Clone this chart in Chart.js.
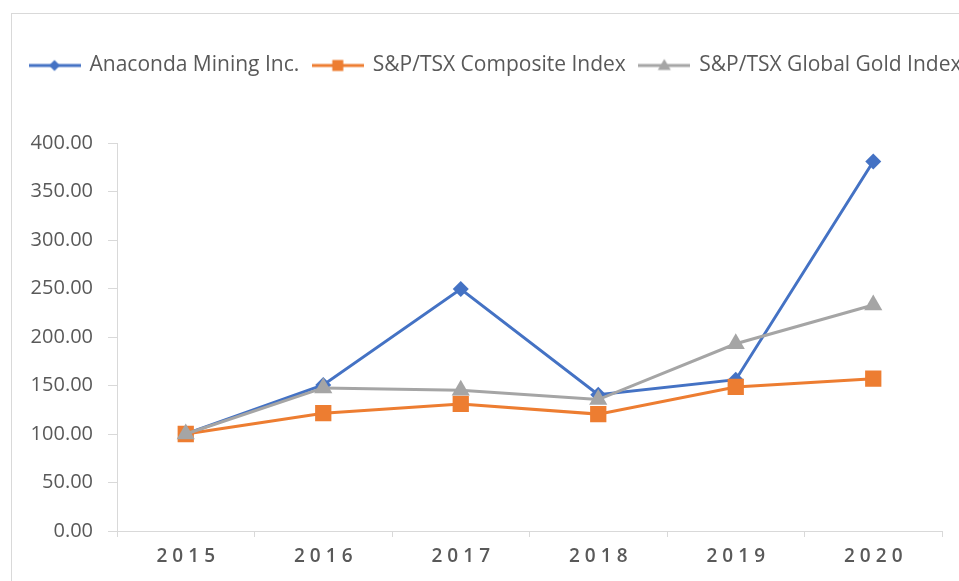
<!DOCTYPE html>
<html>
<head>
<meta charset="utf-8">
<script src="https://cdn.jsdelivr.net/npm/chart.js@4.4.1/dist/chart.umd.min.js"></script>
<style>
  html, body { margin: 0; padding: 0; background: #fff; }
  #wrap { position: relative; width: 959px; height: 581px; overflow: hidden; }
  #frame { position: absolute; left: 11px; top: 13px; width: 1000px; height: 1000px; border: 1px solid #d9d9d9; }
  #myChart { position: absolute; left: 0; top: 0; }
</style>
</head>
<body>
<div id="wrap">
  <div id="frame"></div>
  <canvas id="myChart" width="1100" height="581"></canvas>
</div>
<script>
// 数据
const years = ['2015', '2016', '2017', '2018', '2019', '2020'];
const anaconda = [100, 150.5, 249.5, 140.5, 156, 381];
const composite = [100, 121.5, 131, 120.5, 148.5, 157];
const goldIndex = [100, 147.5, 145, 135.5, 193, 233];
const seriesNames = ['Anaconda Mining Inc.', 'S&P/TSX Composite Index', 'S&P/TSX Global Gold Index'];
const yTicks = [0, 50, 100, 150, 200, 250, 300, 350, 400];

const BLUE = '#4472C4';
const ORANGE = '#ED7D31';
const GREY = '#A5A5A5';
const TEXT = '#595959';
const AXIS = '#d9d9d9';

Chart.defaults.font.family = '"Open Sans", sans-serif';
Chart.defaults.color = TEXT;

// 图例：线 + 标记
function legendIcon(color, shape) {
  const c = document.createElement('canvas');
  c.width = 52;
  c.height = 20;
  const g = c.getContext('2d');
  g.strokeStyle = color;
  g.fillStyle = color;
  g.lineWidth = 3;
  g.beginPath();
  g.moveTo(0, 10);
  g.lineTo(52, 10);
  g.stroke();
  g.beginPath();
  if (shape === 'diamond') {
    g.moveTo(26, 4.5); g.lineTo(31.5, 10); g.lineTo(26, 15.5); g.lineTo(20.5, 10);
  } else if (shape === 'square') {
    g.rect(20.5, 4.5, 11, 11);
  } else {
    g.moveTo(26, 3.5); g.lineTo(32.5, 14.5); g.lineTo(19.5, 14.5);
  }
  g.closePath();
  g.fill();
  return c;
}
const icons = [legendIcon(BLUE, 'diamond'), legendIcon(ORANGE, 'square'), legendIcon(GREY, 'triangle')];

// 图例与绘图区之间留白
const legendGap = {
  id: 'legendGap',
  beforeLayout(chart) {
    const legend = chart.legend;
    if (!legend || legend.gapAdded) return;
    const fit = legend.fit;
    legend.fit = function () {
      fit.call(this);
      this.height += 57;
    };
    legend.gapAdded = true;
  }
};

const spaced = (s) => s.split('').join('\u2009\u200A');

new Chart(document.getElementById('myChart'), {
  type: 'line',
  data: {
    labels: years,
    datasets: [
      {
        label: seriesNames[0],
        data: anaconda,
        borderColor: BLUE,
        backgroundColor: BLUE,
        borderWidth: 3,
        pointStyle: 'rectRot',
        pointRadius: 8,
        pointBorderWidth: 0,
        order: 2
      },
      {
        label: seriesNames[1],
        data: composite,
        borderColor: ORANGE,
        backgroundColor: ORANGE,
        borderWidth: 3,
        pointStyle: 'rect',
        pointRadius: 11.5,
        pointBorderWidth: 0,
        order: 1
      },
      {
        label: seriesNames[2],
        data: goldIndex,
        borderColor: GREY,
        backgroundColor: GREY,
        borderWidth: 3,
        pointStyle: 'triangle',
        pointRadius: 10.5,
        pointBorderWidth: 0,
        order: 0
      }
    ]
  },
  options: {
    responsive: false,
    animation: false,
    layout: {
      padding: { left: 16, right: 0, top: 41, bottom: 0 }
    },
    plugins: {
      tooltip: { enabled: false },
      legend: {
        position: 'top',
        align: 'start',
        labels: {
          usePointStyle: true,
          pointStyleWidth: 49,
          padding: 14,
          color: TEXT,
          font: { size: 21 },
          sort: (a, b) => a.datasetIndex - b.datasetIndex,
          generateLabels(chart) {
            const items = Chart.defaults.plugins.legend.labels.generateLabels(chart);
            items.forEach(it => { it.pointStyle = icons[it.datasetIndex]; });
            return items;
          }
        }
      }
    },
    scales: {
      x: {
        offset: true,
        grid: {
          display: true,
          offset: true,
          drawOnChartArea: false,
          drawTicks: true,
          tickLength: 6,
          color: AXIS
        },
        border: { display: true, color: AXIS, width: 1 },
        ticks: {
          padding: 8,
          color: TEXT,
          font: { size: 19, weight: '600' },
          maxRotation: 0,
          callback: function (v, i) { return spaced(years[i]); }
        },
        afterFit(s) { s.height = 50; }
      },
      y: {
        min: yTicks[0],
        max: yTicks[yTicks.length - 1],
        afterBuildTicks(s) { s.ticks = yTicks.map(v => ({ value: v })); },
        grid: {
          display: true,
          drawOnChartArea: false,
          drawTicks: true,
          tickLength: 9,
          color: AXIS
        },
        border: { display: true, color: AXIS, width: 1 },
        ticks: {
          padding: 15,
          color: TEXT,
          font: { size: 20 },
          callback: (v) => Number(v).toFixed(2)
        },
        afterFit(s) { s.width = 101; }
      },
      yRight: {
        position: 'right',
        display: true,
        grid: { display: false },
        border: { display: false },
        ticks: { display: false },
        afterFit(s) { s.width = 158; }
      }
    }
  },
  plugins: [legendGap]
});
</script>
</body>
</html>
